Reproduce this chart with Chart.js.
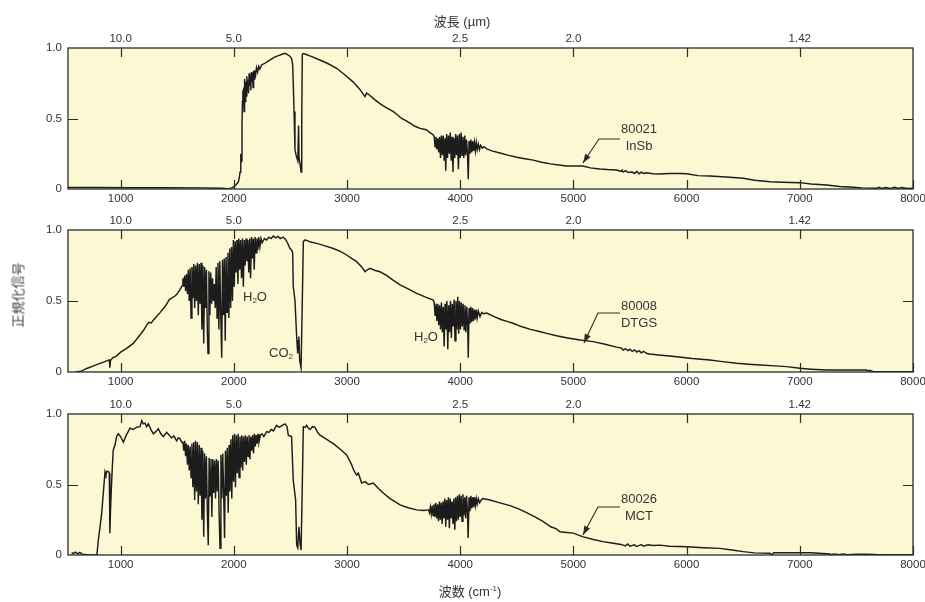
<!DOCTYPE html>
<html>
<head>
<meta charset="utf-8">
<script src="https://cdn.jsdelivr.net/npm/chart.js@4.4.1/dist/chart.umd.min.js"></script>
<style>
body { margin: 0; background: #fff; width: 925px; height: 602px; position: relative; overflow: hidden;
       font-family: "Liberation Sans", Arial, "Noto Sans CJK JP", sans-serif; color: #333; }
.panel { position: absolute; left: 0; width: 925px; }
.txt { position: absolute; font-size: 13px; line-height: 17px; white-space: nowrap; text-align: center;
       transform: translate(-50%, -50%); color: #333; }
.txt sub { font-size: 8px; vertical-align: -2px; line-height: 0; }
.txt sup { font-size: 8px; vertical-align: 5px; line-height: 0; }
</style>
</head>
<body>
<div class="panel" style="top:18px;height:200px"><canvas id="chart1" width="925" height="200"></canvas></div>
<div class="panel" style="top:200px;height:201px"><canvas id="chart2" width="925" height="201"></canvas></div>
<div class="panel" style="top:384px;height:200px"><canvas id="chart3" width="925" height="200"></canvas></div>

<div class="txt" style="left:462px;top:21px">波長 (µm)</div>
<div class="txt" style="left:470px;top:591px">波数 (cm<sup>-1</sup>)</div>
<div class="txt" style="left:18px;top:295px;color:#444;transform:translate(-50%,-50%) rotate(-90deg)">正規化信号</div>

<div class="txt" style="left:639px;top:137px">80021<br>InSb</div>
<div class="txt" style="left:639px;top:314px">80008<br>DTGS</div>
<div class="txt" style="left:639px;top:507px">80026<br>MCT</div>
<div class="txt" style="left:255px;top:296px">H<sub>2</sub>O</div>
<div class="txt" style="left:281px;top:352px">CO<sub>2</sub></div>
<div class="txt" style="left:426px;top:336px">H<sub>2</sub>O</div>

<script>
// axis ticks
const wavenumberTicks = [1000, 2000, 3000, 4000, 5000, 6000, 7000, 8000];
const wavelengthTicks = [1000, 2000, 3000, 4000, 5000, 6000, 7000];
const wavelengthLabels = ['10.0', '5.0', '', '2.5', '2.0', '', '1.42'];
const signalTicks = [0, 0.5, 1];
const signalLabels = ['0', '0.5', '1.0'];

// 80021 InSb  [wavenumber cm-1, normalized signal]
const insbPoints = [
  [535,0.01],[800,0.01],[1100,0.009],[1400,0.009],[1700,0.008],[1900,0.006],[1950,0.0],[1980,0.008],[2000,0.015],
  [2020,0.03],[2040,0.05],[2050,0.09],[2055,0.12],[2060,0.25],[2063,0.18],[2068,0.2],[2072,0.45],[2076,0.62],
  [2080,0.7],[2084,0.6],[2088,0.72],
  [2090,0.55],[2095,0.78],[2100,0.62],[2105,0.76],[2110,0.66],[2115,0.8],[2120,0.7],[2125,0.77],[2130,0.68],
  [2135,0.82],[2140,0.73],[2145,0.8],[2150,0.7],[2155,0.83],[2160,0.76],[2165,0.82],[2170,0.72],[2175,0.84],
  [2180,0.78],[2185,0.84],[2190,0.79],[2200,0.86],[2210,0.83],[2220,0.87],[2230,0.85],[2245,0.88],
  [2280,0.895],[2320,0.915],[2360,0.935],[2400,0.948],[2434,0.957],[2452,0.962],[2470,0.955],[2490,0.945],
  [2510,0.927],[2520,0.88],[2525,0.75],[2532,0.55],[2540,0.28],[2550,0.24],[2565,0.2],[2572,0.45],[2576,0.22],
  [2585,0.18],[2594,0.12],[2600,0.5],[2605,0.955],[2615,0.96],[2628,0.957],[2700,0.935],[2760,0.915],[2830,0.89],
  [2908,0.856],[2980,0.81],[3053,0.76],[3110,0.71],[3159,0.655],[3173,0.68],[3200,0.665],[3250,0.63],[3300,0.6],
  [3350,0.575],[3406,0.55],[3440,0.53],[3482,0.5],[3520,0.485],[3560,0.465],[3600,0.445],[3645,0.43],[3700,0.42],
  [3733,0.4],[3760,0.385],
  [3770,0.37],[3778,0.3],[3786,0.37],[3794,0.28],[3802,0.36],[3810,0.26],[3818,0.37],[3826,0.22],[3834,0.38],
  [3842,0.24],[3850,0.38],[3858,0.2],[3866,0.36],[3872,0.13],[3880,0.39],[3888,0.22],[3896,0.38],[3904,0.25],
  [3912,0.4],[3920,0.2],[3928,0.37],[3936,0.12],[3944,0.36],[3952,0.22],[3960,0.39],[3968,0.24],[3976,0.38],
  [3984,0.14],[3992,0.39],[4000,0.22],[4008,0.4],[4016,0.24],[4024,0.37],[4032,0.22],[4040,0.38],[4048,0.24],
  [4056,0.35],[4064,0.25],[4071,0.07],[4078,0.34],[4086,0.25],[4094,0.35],[4102,0.26],[4110,0.34],[4118,0.27],
  [4126,0.33],[4134,0.27],[4142,0.33],[4150,0.28],[4160,0.32],[4170,0.28],[4180,0.31],[4195,0.29],[4210,0.3],
  [4234,0.285],[4280,0.27],[4351,0.255],[4420,0.24],[4500,0.225],[4570,0.215],[4645,0.205],[4720,0.19],[4800,0.178],
  [4870,0.17],[4940,0.163],[5084,0.163],[5150,0.15],[5234,0.142],[5300,0.138],[5382,0.135],[5420,0.125],[5430,0.135],
  [5440,0.12],[5460,0.13],[5480,0.118],[5520,0.12],[5540,0.11],[5560,0.125],[5580,0.108],[5600,0.12],[5620,0.11],
  [5650,0.115],[5700,0.108],[5765,0.106],[5850,0.11],[5950,0.11],[6000,0.108],[6100,0.095],[6206,0.092],[6350,0.085],
  [6500,0.076],[6600,0.062],[6736,0.052],[6850,0.048],[7000,0.045],[7100,0.035],[7237,0.028],[7350,0.018],[7472,0.012],
  [7550,0.008],[7679,0.005],[7700,0.012],[7720,0.004],[7760,0.01],[7800,0.004],[7840,0.012],[7870,0.004],[7900,0.01],
  [7950,0.003],[8000,0.005]
];

// 80008 DTGS
const dtgsPoints = [
  [600,0.0],[650,0.005],[700,0.025],[750,0.04],[800,0.055],[850,0.07],[880,0.08],[900,0.085],[905,0.03],[910,0.08],
  [930,0.1],[960,0.11],[1000,0.14],[1050,0.165],[1109,0.2],[1150,0.24],[1200,0.29],[1230,0.33],[1250,0.35],[1270,0.345],
  [1300,0.375],[1350,0.42],[1400,0.47],[1430,0.51],[1450,0.52],[1480,0.535],[1500,0.55],[1524,0.58],[1545,0.61],
  [1550,0.66],[1558,0.6],[1566,0.68],[1574,0.57],[1582,0.69],[1590,0.55],[1598,0.72],[1606,0.5],[1614,0.73],
  [1622,0.38],[1630,0.74],[1638,0.52],[1646,0.76],[1654,0.45],[1662,0.75],[1670,0.5],[1678,0.77],[1686,0.4],
  [1694,0.76],[1702,0.48],[1710,0.77],[1718,0.3],[1726,0.75],[1734,0.2],[1742,0.74],[1750,0.45],[1758,0.72],
  [1766,0.28],[1772,0.13],[1780,0.71],[1788,0.4],[1796,0.7],[1804,0.48],[1812,0.66],[1820,0.5],[1828,0.62],
  [1836,0.45],[1844,0.74],[1852,0.38],[1860,0.77],[1868,0.3],[1876,0.78],[1884,0.42],[1893,0.1],[1900,0.79],
  [1908,0.4],[1916,0.8],[1924,0.22],[1932,0.81],[1940,0.42],[1948,0.84],[1956,0.38],[1964,0.87],[1972,0.45],
  [1980,0.88],[1988,0.5],[1996,0.93],[2004,0.6],[2012,0.92],[2020,0.7],[2028,0.93],[2036,0.62],[2044,0.94],
  [2052,0.72],[2060,0.93],[2068,0.66],[2076,0.94],[2084,0.6],[2092,0.93],[2100,0.75],[2108,0.94],[2116,0.78],
  [2124,0.93],[2132,0.7],[2140,0.94],[2148,0.66],[2156,0.95],[2164,0.8],[2172,0.94],[2180,0.72],[2188,0.95],
  [2196,0.84],[2204,0.94],[2212,0.86],[2220,0.95],[2230,0.88],[2240,0.94],[2250,0.91],
  [2270,0.94],[2290,0.93],[2310,0.95],[2330,0.94],[2349,0.958],[2370,0.945],[2390,0.955],[2410,0.94],[2437,0.95],
  [2460,0.93],[2480,0.9],[2496,0.87],[2510,0.86],[2520,0.84],[2525,0.6],[2540,0.507],[2555,0.25],[2564,0.13],
  [2570,0.22],[2575,0.25],[2582,0.08],[2594,0.03],[2605,0.5],[2614,0.918],[2629,0.93],[2680,0.915],[2732,0.906],
  [2800,0.89],[2879,0.87],[2940,0.85],[2997,0.824],[3040,0.8],[3085,0.777],[3130,0.74],[3159,0.706],[3180,0.72],
  [3203,0.73],[3250,0.715],[3291,0.706],[3350,0.68],[3400,0.65],[3468,0.613],[3540,0.585],[3615,0.554],[3700,0.525],
  [3762,0.507],
  [3770,0.49],[3778,0.4],[3786,0.48],[3794,0.36],[3802,0.48],[3810,0.33],[3818,0.47],[3826,0.3],[3834,0.49],
  [3842,0.28],[3850,0.46],[3858,0.18],[3866,0.48],[3874,0.3],[3882,0.5],[3890,0.16],[3898,0.47],[3906,0.28],
  [3914,0.5],[3922,0.24],[3930,0.48],[3938,0.32],[3946,0.51],[3954,0.22],[3962,0.5],[3970,0.3],[3978,0.53],
  [3986,0.27],[3994,0.5],[4002,0.3],[4010,0.49],[4018,0.32],[4026,0.48],[4034,0.3],[4042,0.47],[4050,0.28],
  [4058,0.46],[4066,0.33],[4071,0.1],[4078,0.45],[4086,0.34],[4094,0.46],[4102,0.35],[4110,0.45],[4118,0.36],
  [4126,0.44],[4134,0.37],[4142,0.44],[4150,0.38],[4160,0.43],[4175,0.39],[4190,0.42],[4205,0.41],
  [4234,0.415],[4300,0.39],[4360,0.37],[4420,0.355],[4467,0.343],[4540,0.32],[4620,0.3],[4700,0.285],[4763,0.272],
  [4850,0.255],[4950,0.24],[5058,0.225],[5175,0.214],[5280,0.195],[5380,0.175],[5420,0.17],[5440,0.155],[5460,0.165],
  [5480,0.15],[5500,0.16],[5520,0.145],[5540,0.155],[5560,0.14],[5580,0.15],[5600,0.135],[5620,0.145],[5650,0.13],
  [5676,0.127],[5750,0.12],[5850,0.112],[5912,0.108],[6050,0.095],[6206,0.085],[6300,0.075],[6442,0.061],[6550,0.055],
  [6648,0.049],[6780,0.043],[6884,0.038],[7000,0.026],[7100,0.02],[7237,0.014],[7400,0.014],[7590,0.014],[7610,0.004],
  [7620,0.012],[7648,0.002],[7800,0.002],[8000,0.002]
];

// 80026 MCT
const mctPoints = [
  [567,0.016],[580,0.01],[600,0.02],[620,0.008],[640,0.018],[660,0.006],[700,0.002],[750,0.0],[790,0.0],[803,0.106],
  [818,0.2],[833,0.3],[847,0.44],[862,0.59],[870,0.57],[880,0.595],[895,0.59],[900,0.58],[905,0.155],[910,0.3],
  [915,0.41],[925,0.6],[935,0.745],[950,0.78],[965,0.84],[980,0.86],[1000,0.84],[1024,0.8],[1050,0.85],[1083,0.9],
  [1110,0.89],[1140,0.905],[1171,0.91],[1186,0.952],[1200,0.93],[1215,0.935],[1230,0.91],[1245,0.93],[1265,0.895],
  [1289,0.86],[1310,0.875],[1333,0.895],[1355,0.86],[1377,0.84],[1407,0.87],[1430,0.85],[1451,0.83],[1470,0.845],
  [1495,0.81],[1510,0.83],[1524,0.825],[1540,0.8],
  [1550,0.8],[1558,0.74],[1566,0.81],[1574,0.7],[1582,0.79],[1590,0.64],[1598,0.78],[1606,0.6],[1614,0.77],
  [1622,0.55],[1630,0.79],[1638,0.48],[1646,0.8],[1654,0.39],[1662,0.81],[1670,0.45],[1678,0.8],[1686,0.36],
  [1694,0.78],[1702,0.42],[1710,0.76],[1718,0.25],[1726,0.74],[1734,0.13],[1742,0.72],[1750,0.4],[1758,0.7],
  [1766,0.3],[1774,0.07],[1782,0.69],[1790,0.42],[1798,0.68],[1806,0.27],[1814,0.68],[1822,0.44],[1830,0.67],
  [1838,0.4],[1846,0.68],[1854,0.45],[1862,0.67],[1870,0.3],[1878,0.047],[1886,0.71],[1894,0.4],[1902,0.72],
  [1910,0.45],[1918,0.12],[1926,0.74],[1934,0.42],[1942,0.76],[1950,0.3],[1958,0.78],[1966,0.45],[1974,0.82],
  [1982,0.4],[1990,0.85],[1998,0.52],[2006,0.86],[2014,0.48],[2022,0.85],[2030,0.58],[2038,0.86],[2046,0.55],
  [2054,0.84],[2062,0.62],[2070,0.85],[2078,0.6],[2086,0.84],[2094,0.66],[2102,0.85],[2110,0.64],[2118,0.84],
  [2126,0.7],[2134,0.85],[2142,0.68],[2150,0.84],[2158,0.74],[2166,0.85],[2174,0.72],[2182,0.86],[2190,0.77],
  [2198,0.85],[2206,0.79],[2214,0.86],[2222,0.8],[2235,0.85],[2250,0.86],[2265,0.84],
  [2290,0.875],[2310,0.87],[2330,0.89],[2350,0.88],[2378,0.92],[2400,0.905],[2420,0.915],[2452,0.93],[2470,0.91],
  [2481,0.85],[2510,0.84],[2525,0.53],[2546,0.39],[2555,0.07],[2565,0.05],[2575,0.2],[2585,0.08],[2594,0.035],
  [2605,0.5],[2614,0.91],[2630,0.905],[2643,0.92],[2658,0.9],[2673,0.89],[2695,0.91],[2717,0.905],[2740,0.87],
  [2761,0.85],[2800,0.83],[2840,0.81],[2879,0.79],[2940,0.75],[2997,0.71],[3041,0.64],[3060,0.6],[3085,0.567],
  [3100,0.58],[3129,0.51],[3160,0.52],[3190,0.5],[3232,0.51],[3280,0.47],[3320,0.44],[3380,0.4],[3420,0.38],
  [3468,0.355],[3540,0.335],[3615,0.32],[3680,0.315],[3712,0.32],
  [3720,0.32],[3728,0.3],[3736,0.34],[3744,0.29],[3752,0.35],[3760,0.28],[3768,0.36],[3776,0.27],[3784,0.37],
  [3792,0.26],[3800,0.36],[3808,0.24],[3816,0.38],[3824,0.25],[3832,0.37],[3840,0.22],[3848,0.38],[3856,0.26],
  [3864,0.4],[3872,0.2],[3880,0.39],[3888,0.25],[3896,0.41],[3904,0.19],[3912,0.4],[3920,0.26],[3928,0.38],
  [3936,0.22],[3944,0.4],[3952,0.18],[3960,0.41],[3968,0.24],[3976,0.42],[3984,0.25],[3992,0.43],[4000,0.27],
  [4008,0.42],[4016,0.24],[4024,0.43],[4032,0.28],[4040,0.41],[4048,0.26],[4056,0.42],[4064,0.3],[4070,0.12],
  [4078,0.41],[4086,0.31],[4094,0.42],[4102,0.33],[4110,0.41],[4118,0.34],[4126,0.41],[4134,0.35],[4142,0.4],
  [4150,0.36],[4160,0.4],[4172,0.37],[4185,0.39],[4200,0.4],
  [4263,0.39],[4350,0.37],[4440,0.35],[4520,0.325],[4587,0.3],[4660,0.27],[4734,0.236],[4800,0.2],[4850,0.185],
  [4881,0.165],[4940,0.16],[4999,0.155],[5080,0.13],[5175,0.11],[5260,0.095],[5352,0.083],[5420,0.075],[5460,0.065],
  [5480,0.078],[5500,0.062],[5540,0.072],[5560,0.06],[5600,0.074],[5620,0.062],[5660,0.072],[5700,0.068],[5765,0.07],
  [5850,0.062],[6000,0.059],[6150,0.052],[6294,0.047],[6400,0.035],[6500,0.024],[6600,0.015],[6736,0.012],[6750,0.0],
  [6770,0.016],[6900,0.016],[7100,0.016],[7266,0.007],[7280,0.002],[7300,0.008],[7350,0.002],[7380,0.008],[7420,0.002],
  [7500,0.006],[7600,0.006],[7700,0.002],[8000,0.002]
];

// label arrows: elbow, end of the horizontal stroke, arrow tip (in data units)
const insbArrow = [[5226, 0.355], [5411, 0.355], [5084, 0.184]];
const dtgsArrow = [[5217, 0.415], [5411, 0.415], [5093, 0.204]];
const mctArrow = [[5217, 0.34], [5411, 0.34], [5084, 0.142]];

const ink = '#2b2b2b';
const paper = '#fdf8d4';
const tickFont = { family: 'Liberation Sans, Arial, sans-serif', size: 11.5 };

// yellow plot area, frame, inward tick marks and the label arrow
const framePlugin = {
    id: 'framePlugin',
    beforeDraw(chart) {
        const a = chart.chartArea;
        const ctx = chart.ctx;
        ctx.save();
        ctx.fillStyle = paper;
        ctx.fillRect(a.left, a.top, a.width, a.height);
        ctx.restore();
    },
    afterDatasetsDraw(chart) {
        const a = chart.chartArea;
        const ctx = chart.ctx;
        const sx = chart.scales.x, sx2 = chart.scales.x2, sy = chart.scales.y;
        ctx.save();
        ctx.strokeStyle = ink;
        ctx.lineWidth = 1.3;
        ctx.strokeRect(a.left, a.top, a.width, a.height);

        ctx.lineWidth = 1.2;
        ctx.beginPath();
        wavenumberTicks.forEach(v => {
            const px = Math.round(sx.getPixelForValue(v)) + 0.5;
            ctx.moveTo(px, a.bottom); ctx.lineTo(px, a.bottom - 9);
        });
        wavelengthTicks.forEach(v => {
            const px = Math.round(sx2.getPixelForValue(v)) + 0.5;
            ctx.moveTo(px, a.top); ctx.lineTo(px, a.top + 9);
        });
        const py = Math.round(sy.getPixelForValue(0.5)) + 0.5;
        ctx.moveTo(a.left, py); ctx.lineTo(a.left + 10, py);
        ctx.moveTo(a.right, py); ctx.lineTo(a.right - 10, py);
        ctx.stroke();

        const arrow = chart.options.plugins.framePlugin.arrow;
        if (arrow) {
            const pts = arrow.map(p => [sx.getPixelForValue(p[0]), sy.getPixelForValue(p[1])]);
            ctx.lineWidth = 1.1;
            ctx.beginPath();
            ctx.moveTo(pts[1][0], pts[1][1]);
            ctx.lineTo(pts[0][0], pts[0][1]);
            ctx.lineTo(pts[2][0], pts[2][1]);
            ctx.stroke();
            const ang = Math.atan2(pts[2][1] - pts[0][1], pts[2][0] - pts[0][0]);
            const len = 9, half = 3.2;
            const bx = pts[2][0] - len * Math.cos(ang), by = pts[2][1] - len * Math.sin(ang);
            ctx.fillStyle = ink;
            ctx.beginPath();
            ctx.moveTo(pts[2][0], pts[2][1]);
            ctx.lineTo(bx - half * Math.sin(ang), by + half * Math.cos(ang));
            ctx.lineTo(bx + half * Math.sin(ang), by - half * Math.cos(ang));
            ctx.closePath();
            ctx.fill();
        }
        ctx.restore();
    }
};

function makeChart(canvasId, points, arrow) {
    const ctx = document.getElementById(canvasId).getContext('2d');
    return new Chart(ctx, {
        type: 'line',
        data: {
            datasets: [{
                data: points.map(p => ({ x: p[0], y: p[1] })),
                borderColor: '#1c1c1c',
                borderWidth: 1.45,
                pointRadius: 0,
                tension: 0,
                fill: false
            }]
        },
        options: {
            responsive: false,
            animation: false,
            events: [],
            layout: { padding: { left: 0, right: 12, top: 0, bottom: 0 } },
            scales: {
                x: {
                    type: 'linear',
                    position: 'bottom',
                    min: 535,
                    max: 8000,
                    afterBuildTicks: s => { s.ticks = wavenumberTicks.map(v => ({ value: v })); },
                    afterFit: s => { s.height = 29; s.paddingLeft = 0; s.paddingRight = 0; },
                    ticks: { autoSkip: false, maxRotation: 0, padding: 3, color: '#333', font: tickFont,
                             callback: v => String(v) },
                    grid: { display: false, drawTicks: false },
                    border: { display: false }
                },
                x2: {
                    type: 'linear',
                    position: 'top',
                    min: 535,
                    max: 8000,
                    afterBuildTicks: s => { s.ticks = wavelengthTicks.map(v => ({ value: v })); },
                    afterFit: s => { s.height = 30; s.paddingLeft = 0; s.paddingRight = 0; },
                    ticks: { autoSkip: false, maxRotation: 0, padding: 2, color: '#333', font: tickFont,
                             callback: (v, i) => wavelengthLabels[i] },
                    grid: { display: false, drawTicks: false },
                    border: { display: false }
                },
                y: {
                    type: 'linear',
                    min: 0,
                    max: 1,
                    afterBuildTicks: s => { s.ticks = signalTicks.map(v => ({ value: v })); },
                    afterFit: s => { s.width = 68; s.paddingTop = 0; s.paddingBottom = 0; },
                    ticks: { autoSkip: false, padding: 6, color: '#333', font: tickFont,
                             callback: (v, i) => signalLabels[i] },
                    grid: { display: false, drawTicks: false },
                    border: { display: false }
                }
            },
            plugins: {
                legend: { display: false },
                tooltip: { enabled: false },
                framePlugin: { arrow: arrow }
            }
        },
        plugins: [framePlugin]
    });
}

window.onload = function() {
    makeChart('chart1', insbPoints, insbArrow);
    makeChart('chart2', dtgsPoints, dtgsArrow);
    makeChart('chart3', mctPoints, mctArrow);
};
</script>
</body>
</html>
